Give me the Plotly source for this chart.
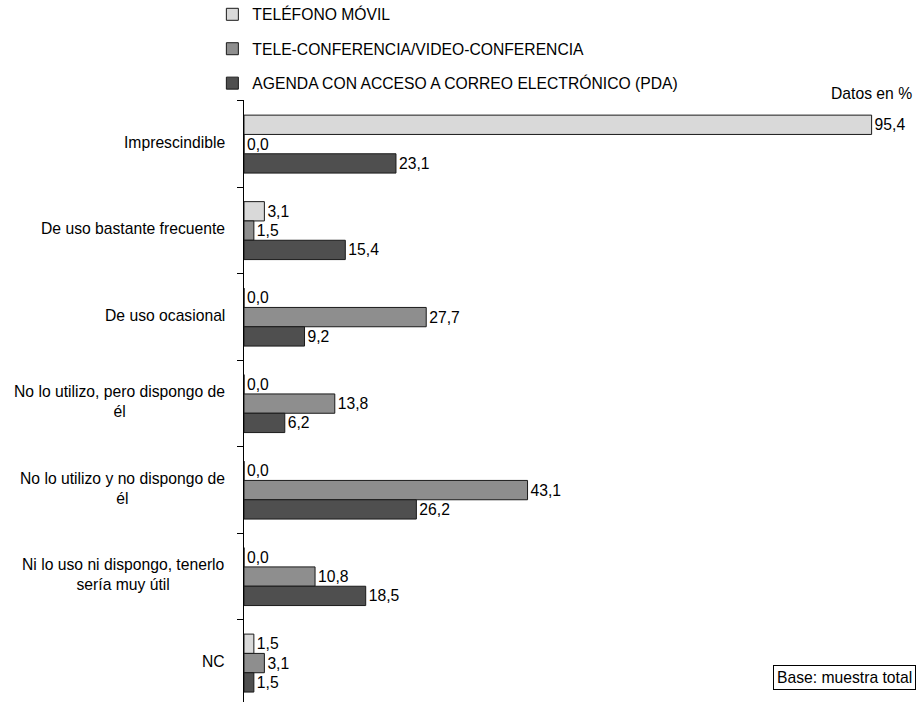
import plotly.graph_objects as go

# Response categories (top to bottom) and the three devices surveyed
categories = [
    "Imprescindible",
    "De uso bastante frecuente",
    "De uso ocasional",
    "No lo utilizo, pero dispongo de<br>él",
    "No lo utilizo y no dispongo de<br>él",
    "Ni lo uso ni dispongo, tenerlo<br>sería muy útil",
    "NC",
]
series_names = [
    "TELÉFONO MÓVIL",
    "TELE-CONFERENCIA/VIDEO-CONFERENCIA",
    "AGENDA CON ACCESO A CORREO ELECTRÓNICO (PDA)",
]
movil = [95.4, 3.1, 0.0, 0.0, 0.0, 0.0, 1.5]
videoconf = [0.0, 1.5, 27.7, 13.8, 43.1, 10.8, 3.1]
pda = [23.1, 15.4, 9.2, 6.2, 26.2, 18.5, 1.5]

series_values = [movil, videoconf, pda]
colors = ["#d9d9d9", "#8e8e8e", "#4f4f4f"]

FONT = "Liberation Sans, Arial, sans-serif"
FS = 15.7

fig = go.Figure()
for i, (name, vals) in enumerate(zip(series_names, series_values)):
    fig.add_trace(go.Bar(
        y=categories,
        x=vals,
        name=name,
        orientation="h",
        legendgroup=f"g{i}",
        marker=dict(color=colors[i], line=dict(color="#1a1a1a", width=1)),
        texttemplate="%{x:.1f}",
        textposition="outside",
        constraintext="none",
        cliponaxis=False,
        textfont=dict(family=FONT, size=FS, color="#000000"),
        hoverinfo="skip",
    ))

# Category labels, right-aligned next to the axis with centred line wrap
for cat in categories:
    fig.add_annotation(
        xref="paper", yref="y", x=-0.026, y=cat, yshift=2,
        text=cat, showarrow=False, xanchor="right", yanchor="middle",
        align="center", font=dict(family=FONT, size=FS, color="#000000"),
    )

fig.add_annotation(
    xref="paper", yref="paper", x=0.996, y=1.01, yanchor="middle", xanchor="right",
    text="Datos en %", showarrow=False,
    font=dict(family=FONT, size=FS, color="#000000"),
)
fig.add_annotation(
    xref="paper", yref="paper", x=0.998, y=0.04, yanchor="middle", xanchor="right",
    text="Base: muestra total", showarrow=False,
    bordercolor="#000000", borderwidth=1, borderpad=3, bgcolor="#ffffff",
    font=dict(family=FONT, size=FS, color="#000000"),
)

fig.update_layout(
    width=917, height=702,
    margin=dict(l=244, r=0, t=100, b=0, autoexpand=False),
    paper_bgcolor="#ffffff", plot_bgcolor="#ffffff",
    barmode="group", bargap=0.33, bargroupgap=0,
    separators=", ",
    font=dict(family=FONT, size=FS, color="#000000"),
    showlegend=True,
    legend=dict(
        x=-0.047, y=0.999, xanchor="left", yanchor="bottom",
        traceorder="grouped", tracegroupgap=11,
        font=dict(family=FONT, size=FS, color="#000000"),
        bgcolor="rgba(0,0,0,0)", itemwidth=30,
    ),
    xaxis=dict(range=[0, 102.3], visible=False, fixedrange=True),
    yaxis=dict(
        type="category", range=[6.45, -0.51],
        showticklabels=False, showgrid=False, zeroline=False,
        showline=True, linecolor="#000000", linewidth=1,
        ticks="outside", tickson="boundaries", ticklen=6, tickcolor="#000000",
    ),
)

fig.write_html("out.html")
